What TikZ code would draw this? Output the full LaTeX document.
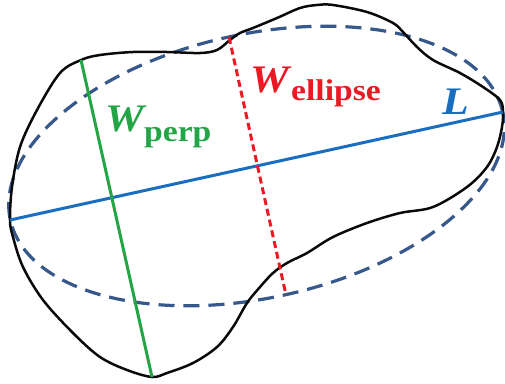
\documentclass[tikz,border=0pt]{standalone}
\usepackage{fontspec}
\setmainfont{Liberation Serif}
\newfontfamily\widebf[FakeStretch=1.12]{Liberation Serif}
\definecolor{blobc}{RGB}{10,10,10}
\definecolor{ellc}{RGB}{55,88,138}
\definecolor{lc}{RGB}{25,110,192}
\definecolor{pc}{RGB}{35,165,70}
\definecolor{ec}{RGB}{235,25,35}
\tikzset{
  blob/.style={draw=blobc, line width=2.5pt, line join=round},
  fitell/.style={draw=ellc, line width=3.2pt, dash pattern=on 16pt off 9pt},
  lenline/.style={draw=lc, line width=3pt},
  perpline/.style={draw=pc, line width=3pt},
  ellline/.style={draw=ec, line width=3pt, dash pattern=on 7pt off 4pt},
  lab/.style={inner sep=0pt, anchor=base west}
}
\begin{document}
\begin{tikzpicture}[x=1pt, y=-1pt]
\useasboundingbox (0,0) rectangle (505,383);
% fitted ellipse
\draw[fitell, rotate around={12.36:(256.5,166)}] (256.5,166) ellipse [x radius=252pt, y radius=132pt];
% blob outline
\draw[blob] plot[smooth cycle, tension=0.55] coordinates {
 (10,220) (12,187) (20,147) (37,110) (60,73) (81,60) (100,55) (133,52)
 (167,52) (200,53) (217,50) (230,40) (240,33) (253,28) (277,18) (300,8)
 (317,5) (333,5) (367,12) (393,23) (403,32) (417,47) (433,60) (460,73)
 (483,87) (500,100) (503,112) (502,127) (497,147) (487,167) (467,187)
 (433,207) (400,213) (367,223) (333,237) (307,253) (287,263) (273,273)
 (260,287) (247,303) (233,327) (217,347) (193,363) (167,373) (152,377)
 (127,370) (100,357) (73,333) (43,300) (23,267) (13,237)};
% axes
\coordinate (La) at (10,220);
\coordinate (Lb) at (503,112);
\coordinate (Pa) at (81,60);
\coordinate (Pb) at (152,377);
\coordinate (Ea) at (229,37);
\coordinate (Eb) at (286,295);
\draw[lenline] (La) -- (Lb);
\draw[perpline] (Pa) -- (Pb);
\draw[ellline] (Ea) -- (Eb);
% labels
\node[lab, text=ec, font=\widebf\bfseries\itshape\fontsize{39}{39}\selectfont] (we) at (250,92) {W};
\node[lab, text=ec, font=\widebf\bfseries\fontsize{30}{30}\selectfont] (wes) at (291,100) {ellipse};
\node[lab, text=pc, font=\widebf\bfseries\itshape\fontsize{39}{39}\selectfont] (wp) at (105,131) {W};
\node[lab, text=pc, font=\widebf\bfseries\fontsize{30}{30}\selectfont] (wps) at (144,141) {perp};
\node[lab, text=lc, font=\widebf\bfseries\itshape\fontsize{39}{39}\selectfont] (ll) at (442,114) {L};
\end{tikzpicture}
\end{document}
